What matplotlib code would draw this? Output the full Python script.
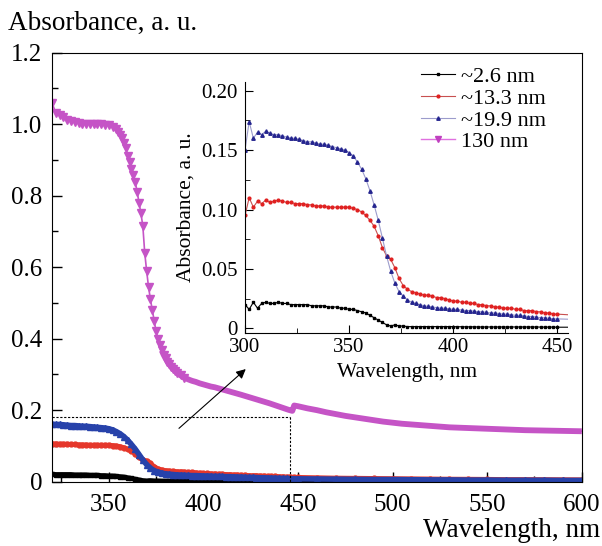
import numpy as np
import matplotlib
matplotlib.use("Agg")
import matplotlib.pyplot as plt
from matplotlib.ticker import MultipleLocator, FuncFormatter

plt.rcParams['font.family'] = ['Liberation Serif', 'DejaVu Serif']

# wavelength grid of the small-particle spectra (nm)
wl = np.concatenate([np.arange(300, 451, 2), np.arange(460, 601, 10)])

abs_26 = [0.020, 0.016, 0.022, 0.017, 0.021, 0.022, 0.021, 0.021, 0.022, 0.021,
          0.021, 0.020, 0.020, 0.020, 0.020, 0.020, 0.019, 0.019, 0.019, 0.019,
          0.018, 0.018, 0.018, 0.017, 0.017, 0.016, 0.016, 0.015, 0.014, 0.013,
          0.011, 0.009, 0.007, 0.005, 0.003, 0.002, 0.003, 0.002, 0.002, 0.0015,
          0.0015, 0.0015, 0.0015, 0.0015, 0.0015, 0.0015, 0.0015, 0.0015, 0.0015, 0.0015,
          0.0015, 0.0014, 0.0014, 0.0013, 0.0013, 0.0013, 0.0012, 0.0012, 0.0012, 0.0012,
          0.0012, 0.0012, 0.0012, 0.0012, 0.0012, 0.0012, 0.0012, 0.0012, 0.0012, 0.0012,
          0.0012, 0.0011, 0.0011, 0.0011, 0.0011, 0.0010,
          0.001, 0.001, 0.001, 0.001, 0.001, 0.001, 0.001, 0.001, 0.001, 0.001,
          0.001, 0.001, 0.001, 0.001, 0.001]

abs_133 = [0.095, 0.110, 0.102, 0.107, 0.105, 0.108, 0.106, 0.107, 0.108, 0.107,
           0.106, 0.106, 0.105, 0.105, 0.105, 0.104, 0.104, 0.103, 0.103, 0.103,
           0.102, 0.102, 0.102, 0.102, 0.102, 0.102, 0.101, 0.100, 0.098, 0.095,
           0.091, 0.086, 0.078, 0.068, 0.061, 0.058, 0.051, 0.042, 0.036, 0.033,
           0.031, 0.030, 0.029, 0.028, 0.028, 0.027, 0.026, 0.026, 0.025, 0.024,
           0.023, 0.023, 0.022, 0.022, 0.021, 0.021, 0.020, 0.020, 0.019, 0.019,
           0.018, 0.018, 0.017, 0.017, 0.017, 0.016, 0.016, 0.015, 0.015, 0.015,
           0.014, 0.014, 0.013, 0.013, 0.012, 0.012,
           0.011, 0.010, 0.0095, 0.009, 0.0085, 0.008, 0.0075, 0.007, 0.0068, 0.0065,
           0.006, 0.006, 0.0058, 0.0055, 0.0053]

abs_199 = [0.150, 0.174, 0.160, 0.165, 0.163, 0.166, 0.164, 0.163, 0.163, 0.162,
           0.161, 0.160, 0.160, 0.159, 0.158, 0.157, 0.157, 0.156, 0.155, 0.155,
           0.154, 0.153, 0.152, 0.151, 0.150, 0.148, 0.145, 0.140, 0.134, 0.126,
           0.116, 0.104, 0.091, 0.076, 0.061, 0.048, 0.038, 0.031, 0.027, 0.024,
           0.022, 0.021, 0.020, 0.019, 0.0185, 0.018, 0.0175, 0.017, 0.017, 0.0165,
           0.016, 0.016, 0.0155, 0.015, 0.015, 0.0145, 0.014, 0.014, 0.0135, 0.013,
           0.013, 0.0125, 0.012, 0.012, 0.0115, 0.011, 0.011, 0.0105, 0.010, 0.010,
           0.0095, 0.009, 0.009, 0.0085, 0.008, 0.008,
           0.0075, 0.007, 0.0065, 0.006, 0.006, 0.0055, 0.005, 0.005, 0.0045, 0.0045,
           0.004, 0.004, 0.004, 0.0035, 0.0035]

# 130 nm particles
wl_130 = np.concatenate([np.arange(320, 355, 2), np.arange(355, 386, 1),
                         np.arange(386, 421, 2), np.arange(425, 446, 5),
                         [447, 448], np.arange(450, 601, 5)])
abs_130 = np.array([
    # 320-354
    1.06, 1.03, 1.025, 1.02, 1.01, 1.008, 1.005, 1.002, 1.0, 1.0,
    1.0, 1.0, 1.0, 0.999, 0.998, 0.996, 0.992, 0.986,
    # 355-385
    0.978, 0.970, 0.960, 0.948, 0.932, 0.910, 0.893, 0.875, 0.857, 0.838,
    0.810, 0.780, 0.750, 0.715, 0.640, 0.590, 0.545, 0.510, 0.480, 0.450,
    0.420, 0.400, 0.383, 0.367, 0.355, 0.345, 0.336, 0.328, 0.321, 0.315,
    0.310,
    # 386-420
    0.305, 0.297, 0.291, 0.286, 0.282, 0.279, 0.275, 0.272, 0.269, 0.266,
    0.264, 0.261, 0.258, 0.255, 0.252, 0.249, 0.246, 0.243,
    # 425-445, 447, 448
    0.235, 0.227, 0.219, 0.210, 0.201, 0.198, 0.213,
    # 450-600
    0.211, 0.205, 0.200, 0.194, 0.189,
    0.184, 0.180, 0.176, 0.172, 0.168, 0.165, 0.162, 0.160, 0.158, 0.156,
    0.154, 0.152, 0.151, 0.150, 0.149, 0.148, 0.147, 0.146, 0.145, 0.144,
    0.1435, 0.143, 0.1425, 0.142, 0.1415, 0.141])

labels = ['~2.6 nm', '~13.3 nm', '~19.9 nm', '130 nm']
magenta = '#C554C6'

fig = plt.figure(figsize=(6.02, 5.46), dpi=100)
ax = fig.add_axes([0.0864, 0.1178, 0.880, 0.786])

ax.plot(wl, abs_26, '-s', color='black', lw=3.5, ms=3)
ax.plot(wl, abs_133, '-o', color='#E5372B', lw=3.5, ms=3.5)
ax.plot(wl, abs_199, '-^', color='#2742AA', lw=4, ms=4)
# tail of the 130 nm curve is a dense band, head shows separate markers
tail = wl_130 >= 378
ax.plot(wl_130[tail], abs_130[tail], '-', color=magenta, lw=4.2, solid_capstyle='butt')
ax.plot(wl_130, abs_130, '-v', color=magenta, lw=1.2, ms=6,
        markevery=list(wl_130 <= 390))

ax.set_xlim(320, 600)
ax.set_ylim(0, 1.2)
ax.xaxis.set_major_locator(MultipleLocator(50))
ax.xaxis.set_minor_locator(MultipleLocator(25))
ax.yaxis.set_major_locator(MultipleLocator(0.2))
ax.yaxis.set_minor_locator(MultipleLocator(0.1))
ax.yaxis.set_major_formatter(FuncFormatter(lambda v, p: '0' if abs(v) < 1e-9 else '%.1f' % v))
ax.tick_params(which='both', direction='in', labelsize=18, width=1)
ax.tick_params(which='major', length=7)
ax.tick_params(which='minor', length=4)
ax.tick_params(axis='y', pad=7)
ax.tick_params(axis='x', pad=9)

# zoom region and arrow
ax.plot([320, 446], [0.18, 0.18], color='black', lw=0.8, ls=(0, (2, 1.5)))
ax.plot([446, 446], [0.18, 0], color='black', lw=0.8, ls=(0, (2, 1.5)))
ax.annotate('', xy=(423.5, 0.32), xytext=(386, 0.144),
            arrowprops=dict(arrowstyle='-|>', color='black', lw=0.8, mutation_scale=14))

fig.text(0.013, 0.958, 'Absorbance, a. u.', fontsize=19.5, va='center', ha='left')
fig.text(0.997, 0.029, 'Wavelength, nm', fontsize=19.5, va='center', ha='right')

# inset
ins = fig.add_axes([0.407, 0.3907, 0.537, 0.4597])
l1, = ins.plot(wl, abs_26, '-s', color='black', mfc='black', mec='black', lw=0.8, ms=2)
l2, = ins.plot(wl, abs_133, '-o', color='#C85050', mfc='#E02020', mec='#E02020', lw=0.8, ms=2)
l3, = ins.plot(wl, abs_199, '-^', color='#9C9CCC', mfc='#25258F', mec='#25258F', lw=0.8, ms=2.5)
l4, = ins.plot([], [], '-v', color='#E070E0', mfc='#C040C0', mec='#C040C0', lw=1, ms=4)
ins.set_xlim(300, 455.3)
ins.set_ylim(-0.0036, 0.2076)
ins.spines['top'].set_visible(False)
ins.spines['right'].set_visible(False)
ins.xaxis.set_major_locator(MultipleLocator(50))
ins.xaxis.set_minor_locator(MultipleLocator(25))
ins.yaxis.set_major_locator(MultipleLocator(0.05))
ins.yaxis.set_minor_locator(MultipleLocator(0.025))
ins.yaxis.set_major_formatter(FuncFormatter(lambda v, p: '0' if abs(v) < 1e-9 else '%.2f' % v))
ins.tick_params(which='both', direction='in', labelsize=15)
ins.tick_params(which='major', length=6)
ins.tick_params(which='minor', length=3.5)
ins.tick_params(axis='y', pad=5)
ins.tick_params(axis='x', pad=4)
ins.set_xlabel('Wavelength, nm', fontsize=15.5, labelpad=4)
ins.set_ylabel('Absorbance, a. u.', fontsize=15.5, labelpad=4)

fig.legend([l1, l2, l3, l4], labels, loc='upper left', bbox_to_anchor=(0.70, 0.878),
           frameon=False, fontsize=16, handlelength=1.5, handletextpad=0.3,
           labelspacing=0.05, borderpad=0, borderaxespad=0)

fig.savefig('out.png', dpi=100)
